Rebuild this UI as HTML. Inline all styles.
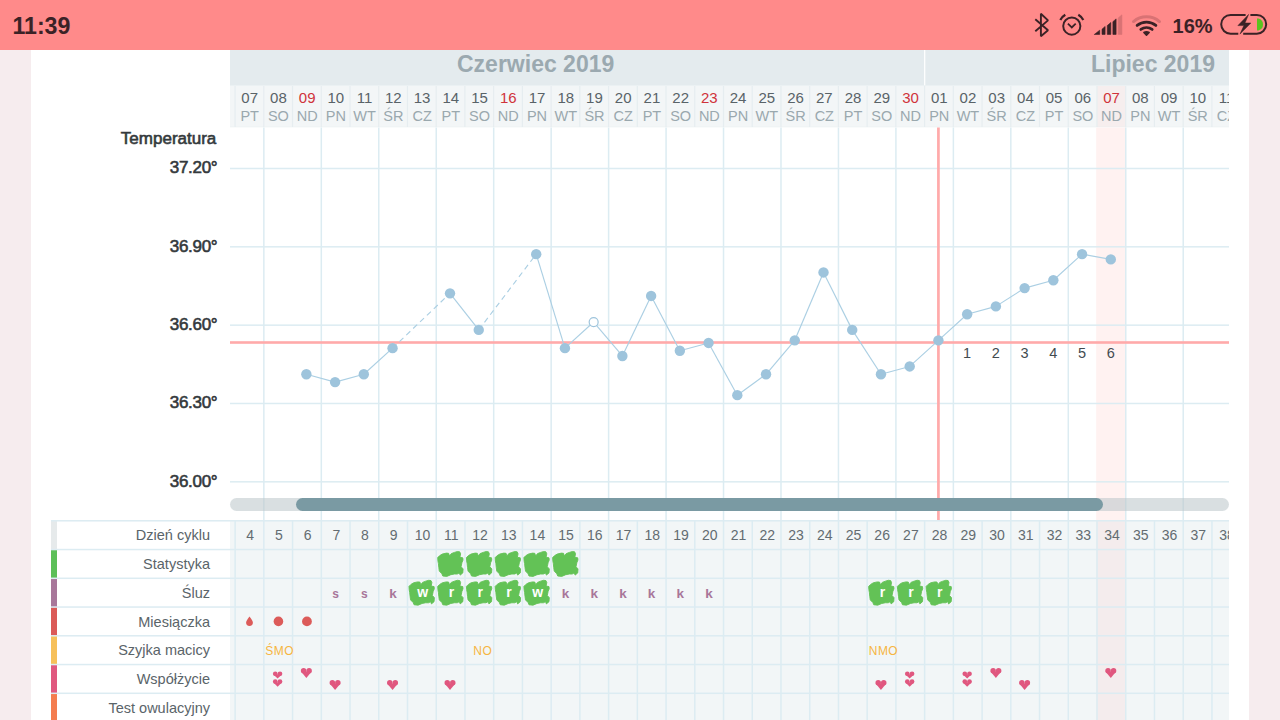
<!DOCTYPE html>
<html><head><meta charset="utf-8"><title>chart</title>
<style>
html,body{margin:0;padding:0;}
body{width:1280px;height:720px;overflow:hidden;background:#f6ecee;position:relative;font-family:"Liberation Sans", sans-serif;}
svg{position:absolute;left:0;top:0;}
</style></head><body>
<svg width="1280" height="720" viewBox="0 0 1280 720" font-family='"Liberation Sans", sans-serif'>

<rect x="0" y="0" width="1280" height="50" fill="#ff8a8a"/>
<rect x="31" y="50" width="1218" height="670" fill="#ffffff"/>
<rect x="230" y="50" width="999" height="35.5" fill="#e4ebee"/>
<rect x="924.09" y="50" width="1.2" height="35.5" fill="#ffffff"/>
<text x="457" y="71.9" font-size="23" font-weight="700" fill="#9ba9b0">Czerwiec 2019</text>
<text x="1215" y="71.9" font-size="23" font-weight="700" fill="#9ba9b0" text-anchor="end">Lipiec 2019</text>
<rect x="230" y="85.5" width="999" height="42" fill="#e6edf0"/>
<rect x="230.00" y="86" width="4.47" height="40.8" fill="#f3f6f7"/>
<rect x="235.67" y="86" width="27.53" height="40.8" fill="#f3f6f7"/>
<rect x="264.40" y="86" width="27.53" height="40.8" fill="#f3f6f7"/>
<rect x="293.13" y="86" width="27.53" height="40.8" fill="#f3f6f7"/>
<rect x="321.86" y="86" width="27.53" height="40.8" fill="#f3f6f7"/>
<rect x="350.59" y="86" width="27.53" height="40.8" fill="#f3f6f7"/>
<rect x="379.32" y="86" width="27.53" height="40.8" fill="#f3f6f7"/>
<rect x="408.05" y="86" width="27.53" height="40.8" fill="#f3f6f7"/>
<rect x="436.78" y="86" width="27.53" height="40.8" fill="#f3f6f7"/>
<rect x="465.51" y="86" width="27.53" height="40.8" fill="#f3f6f7"/>
<rect x="494.24" y="86" width="27.53" height="40.8" fill="#f3f6f7"/>
<rect x="522.97" y="86" width="27.53" height="40.8" fill="#f3f6f7"/>
<rect x="551.70" y="86" width="27.53" height="40.8" fill="#f3f6f7"/>
<rect x="580.43" y="86" width="27.53" height="40.8" fill="#f3f6f7"/>
<rect x="609.16" y="86" width="27.53" height="40.8" fill="#f3f6f7"/>
<rect x="637.89" y="86" width="27.53" height="40.8" fill="#f3f6f7"/>
<rect x="666.62" y="86" width="27.53" height="40.8" fill="#f3f6f7"/>
<rect x="695.35" y="86" width="27.53" height="40.8" fill="#f3f6f7"/>
<rect x="724.08" y="86" width="27.53" height="40.8" fill="#f3f6f7"/>
<rect x="752.81" y="86" width="27.53" height="40.8" fill="#f3f6f7"/>
<rect x="781.54" y="86" width="27.53" height="40.8" fill="#f3f6f7"/>
<rect x="810.27" y="86" width="27.53" height="40.8" fill="#f3f6f7"/>
<rect x="839.00" y="86" width="27.53" height="40.8" fill="#f3f6f7"/>
<rect x="867.73" y="86" width="27.53" height="40.8" fill="#f3f6f7"/>
<rect x="896.46" y="86" width="27.53" height="40.8" fill="#f3f6f7"/>
<rect x="925.19" y="86" width="27.53" height="40.8" fill="#f3f6f7"/>
<rect x="953.92" y="86" width="27.53" height="40.8" fill="#f3f6f7"/>
<rect x="982.65" y="86" width="27.53" height="40.8" fill="#f3f6f7"/>
<rect x="1011.38" y="86" width="27.53" height="40.8" fill="#f3f6f7"/>
<rect x="1040.11" y="86" width="27.53" height="40.8" fill="#f3f6f7"/>
<rect x="1068.84" y="86" width="27.53" height="40.8" fill="#f3f6f7"/>
<rect x="1097.57" y="86" width="27.53" height="40.8" fill="#f6eeee"/>
<rect x="1126.30" y="86" width="27.53" height="40.8" fill="#f3f6f7"/>
<rect x="1155.03" y="86" width="27.53" height="40.8" fill="#f3f6f7"/>
<rect x="1183.76" y="86" width="27.53" height="40.8" fill="#f3f6f7"/>
<rect x="1212.49" y="86" width="16.51" height="40.8" fill="#f3f6f7"/>
<defs><clipPath id="hc"><rect x="230" y="50" width="999" height="670"/></clipPath></defs>
<g clip-path="url(#hc)">
<text x="249.70" y="103.0" font-size="15" fill="#596368" text-anchor="middle">07</text>
<text x="249.70" y="120.5" font-size="14.5" fill="#9aa8ae" text-anchor="middle">PT</text>
<text x="278.43" y="103.0" font-size="15" fill="#596368" text-anchor="middle">08</text>
<text x="278.43" y="120.5" font-size="14.5" fill="#9aa8ae" text-anchor="middle">SO</text>
<text x="307.16" y="103.0" font-size="15" fill="#d0333b" text-anchor="middle">09</text>
<text x="307.16" y="120.5" font-size="14.5" fill="#9aa8ae" text-anchor="middle">ND</text>
<text x="335.89" y="103.0" font-size="15" fill="#596368" text-anchor="middle">10</text>
<text x="335.89" y="120.5" font-size="14.5" fill="#9aa8ae" text-anchor="middle">PN</text>
<text x="364.62" y="103.0" font-size="15" fill="#596368" text-anchor="middle">11</text>
<text x="364.62" y="120.5" font-size="14.5" fill="#9aa8ae" text-anchor="middle">WT</text>
<text x="393.35" y="103.0" font-size="15" fill="#596368" text-anchor="middle">12</text>
<text x="393.35" y="120.5" font-size="14.5" fill="#9aa8ae" text-anchor="middle">ŚR</text>
<text x="422.08" y="103.0" font-size="15" fill="#596368" text-anchor="middle">13</text>
<text x="422.08" y="120.5" font-size="14.5" fill="#9aa8ae" text-anchor="middle">CZ</text>
<text x="450.81" y="103.0" font-size="15" fill="#596368" text-anchor="middle">14</text>
<text x="450.81" y="120.5" font-size="14.5" fill="#9aa8ae" text-anchor="middle">PT</text>
<text x="479.54" y="103.0" font-size="15" fill="#596368" text-anchor="middle">15</text>
<text x="479.54" y="120.5" font-size="14.5" fill="#9aa8ae" text-anchor="middle">SO</text>
<text x="508.27" y="103.0" font-size="15" fill="#d0333b" text-anchor="middle">16</text>
<text x="508.27" y="120.5" font-size="14.5" fill="#9aa8ae" text-anchor="middle">ND</text>
<text x="537.00" y="103.0" font-size="15" fill="#596368" text-anchor="middle">17</text>
<text x="537.00" y="120.5" font-size="14.5" fill="#9aa8ae" text-anchor="middle">PN</text>
<text x="565.73" y="103.0" font-size="15" fill="#596368" text-anchor="middle">18</text>
<text x="565.73" y="120.5" font-size="14.5" fill="#9aa8ae" text-anchor="middle">WT</text>
<text x="594.46" y="103.0" font-size="15" fill="#596368" text-anchor="middle">19</text>
<text x="594.46" y="120.5" font-size="14.5" fill="#9aa8ae" text-anchor="middle">ŚR</text>
<text x="623.19" y="103.0" font-size="15" fill="#596368" text-anchor="middle">20</text>
<text x="623.19" y="120.5" font-size="14.5" fill="#9aa8ae" text-anchor="middle">CZ</text>
<text x="651.92" y="103.0" font-size="15" fill="#596368" text-anchor="middle">21</text>
<text x="651.92" y="120.5" font-size="14.5" fill="#9aa8ae" text-anchor="middle">PT</text>
<text x="680.65" y="103.0" font-size="15" fill="#596368" text-anchor="middle">22</text>
<text x="680.65" y="120.5" font-size="14.5" fill="#9aa8ae" text-anchor="middle">SO</text>
<text x="709.38" y="103.0" font-size="15" fill="#d0333b" text-anchor="middle">23</text>
<text x="709.38" y="120.5" font-size="14.5" fill="#9aa8ae" text-anchor="middle">ND</text>
<text x="738.11" y="103.0" font-size="15" fill="#596368" text-anchor="middle">24</text>
<text x="738.11" y="120.5" font-size="14.5" fill="#9aa8ae" text-anchor="middle">PN</text>
<text x="766.84" y="103.0" font-size="15" fill="#596368" text-anchor="middle">25</text>
<text x="766.84" y="120.5" font-size="14.5" fill="#9aa8ae" text-anchor="middle">WT</text>
<text x="795.57" y="103.0" font-size="15" fill="#596368" text-anchor="middle">26</text>
<text x="795.57" y="120.5" font-size="14.5" fill="#9aa8ae" text-anchor="middle">ŚR</text>
<text x="824.30" y="103.0" font-size="15" fill="#596368" text-anchor="middle">27</text>
<text x="824.30" y="120.5" font-size="14.5" fill="#9aa8ae" text-anchor="middle">CZ</text>
<text x="853.03" y="103.0" font-size="15" fill="#596368" text-anchor="middle">28</text>
<text x="853.03" y="120.5" font-size="14.5" fill="#9aa8ae" text-anchor="middle">PT</text>
<text x="881.76" y="103.0" font-size="15" fill="#596368" text-anchor="middle">29</text>
<text x="881.76" y="120.5" font-size="14.5" fill="#9aa8ae" text-anchor="middle">SO</text>
<text x="910.49" y="103.0" font-size="15" fill="#d0333b" text-anchor="middle">30</text>
<text x="910.49" y="120.5" font-size="14.5" fill="#9aa8ae" text-anchor="middle">ND</text>
<text x="939.22" y="103.0" font-size="15" fill="#596368" text-anchor="middle">01</text>
<text x="939.22" y="120.5" font-size="14.5" fill="#9aa8ae" text-anchor="middle">PN</text>
<text x="967.95" y="103.0" font-size="15" fill="#596368" text-anchor="middle">02</text>
<text x="967.95" y="120.5" font-size="14.5" fill="#9aa8ae" text-anchor="middle">WT</text>
<text x="996.68" y="103.0" font-size="15" fill="#596368" text-anchor="middle">03</text>
<text x="996.68" y="120.5" font-size="14.5" fill="#9aa8ae" text-anchor="middle">ŚR</text>
<text x="1025.41" y="103.0" font-size="15" fill="#596368" text-anchor="middle">04</text>
<text x="1025.41" y="120.5" font-size="14.5" fill="#9aa8ae" text-anchor="middle">CZ</text>
<text x="1054.14" y="103.0" font-size="15" fill="#596368" text-anchor="middle">05</text>
<text x="1054.14" y="120.5" font-size="14.5" fill="#9aa8ae" text-anchor="middle">PT</text>
<text x="1082.87" y="103.0" font-size="15" fill="#596368" text-anchor="middle">06</text>
<text x="1082.87" y="120.5" font-size="14.5" fill="#9aa8ae" text-anchor="middle">SO</text>
<text x="1111.60" y="103.0" font-size="15" fill="#d0333b" text-anchor="middle">07</text>
<text x="1111.60" y="120.5" font-size="14.5" fill="#9aa8ae" text-anchor="middle">ND</text>
<text x="1140.33" y="103.0" font-size="15" fill="#596368" text-anchor="middle">08</text>
<text x="1140.33" y="120.5" font-size="14.5" fill="#9aa8ae" text-anchor="middle">PN</text>
<text x="1169.06" y="103.0" font-size="15" fill="#596368" text-anchor="middle">09</text>
<text x="1169.06" y="120.5" font-size="14.5" fill="#9aa8ae" text-anchor="middle">WT</text>
<text x="1197.79" y="103.0" font-size="15" fill="#596368" text-anchor="middle">10</text>
<text x="1197.79" y="120.5" font-size="14.5" fill="#9aa8ae" text-anchor="middle">ŚR</text>
<text x="1226.52" y="103.0" font-size="15" fill="#596368" text-anchor="middle">11</text>
<text x="1226.52" y="120.5" font-size="14.5" fill="#9aa8ae" text-anchor="middle">CZ</text>
</g>
<rect x="230" y="127.5" width="999" height="393" fill="#ffffff"/>
<rect x="1096.17" y="127.5" width="29.03" height="393" fill="#fff2f1"/>
<rect x="230" y="167.75" width="999" height="1.5" fill="#dcecf2"/>
<rect x="230" y="246.08" width="999" height="1.5" fill="#dcecf2"/>
<rect x="230" y="324.41" width="999" height="1.5" fill="#dcecf2"/>
<rect x="230" y="402.74" width="999" height="1.5" fill="#dcecf2"/>
<rect x="230" y="481.07" width="999" height="1.5" fill="#dcecf2"/>
<rect x="263.10" y="127.5" width="1.5" height="393" fill="#dcecf2"/>
<rect x="320.56" y="127.5" width="1.5" height="393" fill="#dcecf2"/>
<rect x="378.02" y="127.5" width="1.5" height="393" fill="#dcecf2"/>
<rect x="435.48" y="127.5" width="1.5" height="393" fill="#dcecf2"/>
<rect x="492.94" y="127.5" width="1.5" height="393" fill="#dcecf2"/>
<rect x="550.40" y="127.5" width="1.5" height="393" fill="#dcecf2"/>
<rect x="607.86" y="127.5" width="1.5" height="393" fill="#dcecf2"/>
<rect x="665.32" y="127.5" width="1.5" height="393" fill="#dcecf2"/>
<rect x="722.78" y="127.5" width="1.5" height="393" fill="#dcecf2"/>
<rect x="780.24" y="127.5" width="1.5" height="393" fill="#dcecf2"/>
<rect x="837.70" y="127.5" width="1.5" height="393" fill="#dcecf2"/>
<rect x="895.16" y="127.5" width="1.5" height="393" fill="#dcecf2"/>
<rect x="952.62" y="127.5" width="1.5" height="393" fill="#dcecf2"/>
<rect x="1010.08" y="127.5" width="1.5" height="393" fill="#dcecf2"/>
<rect x="1067.54" y="127.5" width="1.5" height="393" fill="#dcecf2"/>
<rect x="1125.00" y="127.5" width="1.5" height="393" fill="#dcecf2"/>
<rect x="1182.46" y="127.5" width="1.5" height="393" fill="#dcecf2"/>
<text x="216.3" y="143.7" font-size="17" font-weight="400" fill="#34393c" stroke="#34393c" stroke-width="0.6" text-anchor="end">Temperatura</text>
<text x="217.3" y="173.40" font-size="17" font-weight="400" fill="#34393c" stroke="#34393c" stroke-width="0.6" letter-spacing="-0.3" text-anchor="end">37.20°</text>
<text x="217.3" y="251.73" font-size="17" font-weight="400" fill="#34393c" stroke="#34393c" stroke-width="0.6" letter-spacing="-0.3" text-anchor="end">36.90°</text>
<text x="217.3" y="330.06" font-size="17" font-weight="400" fill="#34393c" stroke="#34393c" stroke-width="0.6" letter-spacing="-0.3" text-anchor="end">36.60°</text>
<text x="217.3" y="408.39" font-size="17" font-weight="400" fill="#34393c" stroke="#34393c" stroke-width="0.6" letter-spacing="-0.3" text-anchor="end">36.30°</text>
<text x="217.3" y="486.72" font-size="17" font-weight="400" fill="#34393c" stroke="#34393c" stroke-width="0.6" letter-spacing="-0.3" text-anchor="end">36.00°</text>
<rect x="230" y="341.2" width="999" height="2.6" fill="#ffaaaa"/>
<rect x="937.07" y="127.5" width="2.7" height="393" fill="#ffaaaa"/>
<line x1="306.36" y1="374.27" x2="335.09" y2="382.10" stroke="#abcfe3" stroke-width="1.15"/>
<line x1="335.09" y1="382.10" x2="363.82" y2="374.27" stroke="#abcfe3" stroke-width="1.15"/>
<line x1="363.82" y1="374.27" x2="392.55" y2="348.16" stroke="#abcfe3" stroke-width="1.15"/>
<line x1="392.55" y1="348.16" x2="450.01" y2="293.33" stroke="#abcfe3" stroke-width="1.15" stroke-dasharray="5.5 4"/>
<line x1="450.01" y1="293.33" x2="478.74" y2="329.88" stroke="#abcfe3" stroke-width="1.15"/>
<line x1="478.74" y1="329.88" x2="536.20" y2="254.16" stroke="#abcfe3" stroke-width="1.15" stroke-dasharray="5.5 4"/>
<line x1="536.20" y1="254.16" x2="564.93" y2="348.16" stroke="#abcfe3" stroke-width="1.15"/>
<line x1="564.93" y1="348.16" x2="593.66" y2="322.05" stroke="#abcfe3" stroke-width="1.15"/>
<line x1="593.66" y1="322.05" x2="622.39" y2="355.99" stroke="#abcfe3" stroke-width="1.15"/>
<line x1="622.39" y1="355.99" x2="651.12" y2="295.94" stroke="#abcfe3" stroke-width="1.15"/>
<line x1="651.12" y1="295.94" x2="679.85" y2="350.77" stroke="#abcfe3" stroke-width="1.15"/>
<line x1="679.85" y1="350.77" x2="708.58" y2="342.94" stroke="#abcfe3" stroke-width="1.15"/>
<line x1="708.58" y1="342.94" x2="737.31" y2="395.16" stroke="#abcfe3" stroke-width="1.15"/>
<line x1="737.31" y1="395.16" x2="766.04" y2="374.27" stroke="#abcfe3" stroke-width="1.15"/>
<line x1="766.04" y1="374.27" x2="794.77" y2="340.33" stroke="#abcfe3" stroke-width="1.15"/>
<line x1="794.77" y1="340.33" x2="823.50" y2="272.44" stroke="#abcfe3" stroke-width="1.15"/>
<line x1="823.50" y1="272.44" x2="852.23" y2="329.88" stroke="#abcfe3" stroke-width="1.15"/>
<line x1="852.23" y1="329.88" x2="880.96" y2="374.27" stroke="#abcfe3" stroke-width="1.15"/>
<line x1="880.96" y1="374.27" x2="909.69" y2="366.44" stroke="#abcfe3" stroke-width="1.15"/>
<line x1="909.69" y1="366.44" x2="938.42" y2="340.33" stroke="#abcfe3" stroke-width="1.15"/>
<line x1="938.42" y1="340.33" x2="967.15" y2="314.22" stroke="#abcfe3" stroke-width="1.15"/>
<line x1="967.15" y1="314.22" x2="995.88" y2="306.38" stroke="#abcfe3" stroke-width="1.15"/>
<line x1="995.88" y1="306.38" x2="1024.61" y2="288.11" stroke="#abcfe3" stroke-width="1.15"/>
<line x1="1024.61" y1="288.11" x2="1053.34" y2="280.27" stroke="#abcfe3" stroke-width="1.15"/>
<line x1="1053.34" y1="280.27" x2="1082.07" y2="254.16" stroke="#abcfe3" stroke-width="1.15"/>
<line x1="1082.07" y1="254.16" x2="1110.80" y2="259.39" stroke="#abcfe3" stroke-width="1.15"/>
<circle cx="306.36" cy="374.27" r="5.2" fill="#9ec4dc"/>
<circle cx="335.09" cy="382.10" r="5.2" fill="#9ec4dc"/>
<circle cx="363.82" cy="374.27" r="5.2" fill="#9ec4dc"/>
<circle cx="392.55" cy="348.16" r="5.2" fill="#9ec4dc"/>
<circle cx="450.01" cy="293.33" r="5.2" fill="#9ec4dc"/>
<circle cx="478.74" cy="329.88" r="5.2" fill="#9ec4dc"/>
<circle cx="536.20" cy="254.16" r="5.2" fill="#9ec4dc"/>
<circle cx="564.93" cy="348.16" r="5.2" fill="#9ec4dc"/>
<circle cx="593.66" cy="322.05" r="4.5" fill="#ffffff" stroke="#9ec4dc" stroke-width="1.2"/>
<circle cx="622.39" cy="355.99" r="5.2" fill="#9ec4dc"/>
<circle cx="651.12" cy="295.94" r="5.2" fill="#9ec4dc"/>
<circle cx="679.85" cy="350.77" r="5.2" fill="#9ec4dc"/>
<circle cx="708.58" cy="342.94" r="5.2" fill="#9ec4dc"/>
<circle cx="737.31" cy="395.16" r="5.2" fill="#9ec4dc"/>
<circle cx="766.04" cy="374.27" r="5.2" fill="#9ec4dc"/>
<circle cx="794.77" cy="340.33" r="5.2" fill="#9ec4dc"/>
<circle cx="823.50" cy="272.44" r="5.2" fill="#9ec4dc"/>
<circle cx="852.23" cy="329.88" r="5.2" fill="#9ec4dc"/>
<circle cx="880.96" cy="374.27" r="5.2" fill="#9ec4dc"/>
<circle cx="909.69" cy="366.44" r="5.2" fill="#9ec4dc"/>
<circle cx="938.42" cy="340.33" r="5.2" fill="#9ec4dc"/>
<circle cx="967.15" cy="314.22" r="5.2" fill="#9ec4dc"/>
<circle cx="995.88" cy="306.38" r="5.2" fill="#9ec4dc"/>
<circle cx="1024.61" cy="288.11" r="5.2" fill="#9ec4dc"/>
<circle cx="1053.34" cy="280.27" r="5.2" fill="#9ec4dc"/>
<circle cx="1082.07" cy="254.16" r="5.2" fill="#9ec4dc"/>
<circle cx="1110.80" cy="259.39" r="5.2" fill="#9ec4dc"/>
<text x="967.15" y="358.4" font-size="14.5" fill="#424b50" text-anchor="middle">1</text>
<text x="995.88" y="358.4" font-size="14.5" fill="#424b50" text-anchor="middle">2</text>
<text x="1024.61" y="358.4" font-size="14.5" fill="#424b50" text-anchor="middle">3</text>
<text x="1053.34" y="358.4" font-size="14.5" fill="#424b50" text-anchor="middle">4</text>
<text x="1082.07" y="358.4" font-size="14.5" fill="#424b50" text-anchor="middle">5</text>
<text x="1110.80" y="358.4" font-size="14.5" fill="#424b50" text-anchor="middle">6</text>
<rect x="230" y="498" width="999" height="13" rx="6.5" fill="#b9c4c8" fill-opacity="0.55"/>
<rect x="296" y="498" width="807" height="13" rx="6.5" fill="#7a9aa3"/>
<rect x="51" y="520.8" width="179" height="199.20000000000005" fill="#ffffff"/>
<rect x="230" y="520.8" width="999" height="199.20000000000005" fill="#f2f6f7"/>
<rect x="1096.17" y="520.8" width="29.03" height="199.20000000000005" fill="#f4eced"/>
<rect x="51" y="520.80" width="6" height="28.75" fill="#e6eaeb"/>
<text x="210" y="540.30" font-size="14.5" fill="#5a6469" text-anchor="end">Dzień cyklu</text>
<rect x="51" y="549.55" width="6" height="28.75" fill="#5cbf58"/>
<text x="210" y="569.05" font-size="14.5" fill="#5a6469" text-anchor="end">Statystyka</text>
<rect x="51" y="578.30" width="6" height="28.75" fill="#a8779a"/>
<text x="210" y="597.80" font-size="14.5" fill="#5a6469" text-anchor="end">Śluz</text>
<rect x="51" y="607.05" width="6" height="28.75" fill="#db5a57"/>
<text x="210" y="626.55" font-size="14.5" fill="#5a6469" text-anchor="end">Miesiączka</text>
<rect x="51" y="635.80" width="6" height="28.75" fill="#f6c05a"/>
<text x="210" y="655.30" font-size="14.5" fill="#5a6469" text-anchor="end">Szyjka macicy</text>
<rect x="51" y="664.55" width="6" height="28.75" fill="#e0587f"/>
<text x="210" y="684.05" font-size="14.5" fill="#5a6469" text-anchor="end">Współżycie</text>
<rect x="51" y="693.30" width="6" height="28.75" fill="#f47d4f"/>
<text x="210" y="712.80" font-size="14.5" fill="#5a6469" text-anchor="end">Test owulacyjny</text>
<rect x="51" y="520.05" width="1178" height="1.5" fill="#dcecf2"/>
<rect x="51" y="548.80" width="1178" height="1.5" fill="#dcecf2"/>
<rect x="51" y="577.55" width="1178" height="1.5" fill="#dcecf2"/>
<rect x="51" y="606.30" width="1178" height="1.5" fill="#dcecf2"/>
<rect x="51" y="635.05" width="1178" height="1.5" fill="#dcecf2"/>
<rect x="51" y="663.80" width="1178" height="1.5" fill="#dcecf2"/>
<rect x="51" y="692.55" width="1178" height="1.5" fill="#dcecf2"/>
<rect x="51" y="721.30" width="1178" height="1.5" fill="#dcecf2"/>
<rect x="234.37" y="520.8" width="1.5" height="199.20000000000005" fill="#dcecf2"/>
<rect x="263.10" y="520.8" width="1.5" height="199.20000000000005" fill="#dcecf2"/>
<rect x="291.83" y="520.8" width="1.5" height="199.20000000000005" fill="#dcecf2"/>
<rect x="320.56" y="520.8" width="1.5" height="199.20000000000005" fill="#dcecf2"/>
<rect x="349.29" y="520.8" width="1.5" height="199.20000000000005" fill="#dcecf2"/>
<rect x="378.02" y="520.8" width="1.5" height="199.20000000000005" fill="#dcecf2"/>
<rect x="406.75" y="520.8" width="1.5" height="199.20000000000005" fill="#dcecf2"/>
<rect x="435.48" y="520.8" width="1.5" height="199.20000000000005" fill="#dcecf2"/>
<rect x="464.21" y="520.8" width="1.5" height="199.20000000000005" fill="#dcecf2"/>
<rect x="492.94" y="520.8" width="1.5" height="199.20000000000005" fill="#dcecf2"/>
<rect x="521.67" y="520.8" width="1.5" height="199.20000000000005" fill="#dcecf2"/>
<rect x="550.40" y="520.8" width="1.5" height="199.20000000000005" fill="#dcecf2"/>
<rect x="579.13" y="520.8" width="1.5" height="199.20000000000005" fill="#dcecf2"/>
<rect x="607.86" y="520.8" width="1.5" height="199.20000000000005" fill="#dcecf2"/>
<rect x="636.59" y="520.8" width="1.5" height="199.20000000000005" fill="#dcecf2"/>
<rect x="665.32" y="520.8" width="1.5" height="199.20000000000005" fill="#dcecf2"/>
<rect x="694.05" y="520.8" width="1.5" height="199.20000000000005" fill="#dcecf2"/>
<rect x="722.78" y="520.8" width="1.5" height="199.20000000000005" fill="#dcecf2"/>
<rect x="751.51" y="520.8" width="1.5" height="199.20000000000005" fill="#dcecf2"/>
<rect x="780.24" y="520.8" width="1.5" height="199.20000000000005" fill="#dcecf2"/>
<rect x="808.97" y="520.8" width="1.5" height="199.20000000000005" fill="#dcecf2"/>
<rect x="837.70" y="520.8" width="1.5" height="199.20000000000005" fill="#dcecf2"/>
<rect x="866.43" y="520.8" width="1.5" height="199.20000000000005" fill="#dcecf2"/>
<rect x="895.16" y="520.8" width="1.5" height="199.20000000000005" fill="#dcecf2"/>
<rect x="923.89" y="520.8" width="1.5" height="199.20000000000005" fill="#dcecf2"/>
<rect x="952.62" y="520.8" width="1.5" height="199.20000000000005" fill="#dcecf2"/>
<rect x="981.35" y="520.8" width="1.5" height="199.20000000000005" fill="#dcecf2"/>
<rect x="1010.08" y="520.8" width="1.5" height="199.20000000000005" fill="#dcecf2"/>
<rect x="1038.81" y="520.8" width="1.5" height="199.20000000000005" fill="#dcecf2"/>
<rect x="1067.54" y="520.8" width="1.5" height="199.20000000000005" fill="#dcecf2"/>
<rect x="1096.27" y="520.8" width="1.5" height="199.20000000000005" fill="#dcecf2"/>
<rect x="1125.00" y="520.8" width="1.5" height="199.20000000000005" fill="#dcecf2"/>
<rect x="1153.73" y="520.8" width="1.5" height="199.20000000000005" fill="#dcecf2"/>
<rect x="1182.46" y="520.8" width="1.5" height="199.20000000000005" fill="#dcecf2"/>
<rect x="1211.19" y="520.8" width="1.5" height="199.20000000000005" fill="#dcecf2"/>
<g clip-path="url(#hc)">
<text x="250.10" y="540" font-size="14" fill="#636c71" text-anchor="middle">4</text>
<text x="278.83" y="540" font-size="14" fill="#636c71" text-anchor="middle">5</text>
<text x="307.56" y="540" font-size="14" fill="#636c71" text-anchor="middle">6</text>
<text x="336.29" y="540" font-size="14" fill="#636c71" text-anchor="middle">7</text>
<text x="365.02" y="540" font-size="14" fill="#636c71" text-anchor="middle">8</text>
<text x="393.75" y="540" font-size="14" fill="#636c71" text-anchor="middle">9</text>
<text x="422.48" y="540" font-size="14" fill="#636c71" text-anchor="middle">10</text>
<text x="451.21" y="540" font-size="14" fill="#636c71" text-anchor="middle">11</text>
<text x="479.94" y="540" font-size="14" fill="#636c71" text-anchor="middle">12</text>
<text x="508.67" y="540" font-size="14" fill="#636c71" text-anchor="middle">13</text>
<text x="537.40" y="540" font-size="14" fill="#636c71" text-anchor="middle">14</text>
<text x="566.13" y="540" font-size="14" fill="#636c71" text-anchor="middle">15</text>
<text x="594.86" y="540" font-size="14" fill="#636c71" text-anchor="middle">16</text>
<text x="623.59" y="540" font-size="14" fill="#636c71" text-anchor="middle">17</text>
<text x="652.32" y="540" font-size="14" fill="#636c71" text-anchor="middle">18</text>
<text x="681.05" y="540" font-size="14" fill="#636c71" text-anchor="middle">19</text>
<text x="709.78" y="540" font-size="14" fill="#636c71" text-anchor="middle">20</text>
<text x="738.51" y="540" font-size="14" fill="#636c71" text-anchor="middle">21</text>
<text x="767.24" y="540" font-size="14" fill="#636c71" text-anchor="middle">22</text>
<text x="795.97" y="540" font-size="14" fill="#636c71" text-anchor="middle">23</text>
<text x="824.70" y="540" font-size="14" fill="#636c71" text-anchor="middle">24</text>
<text x="853.43" y="540" font-size="14" fill="#636c71" text-anchor="middle">25</text>
<text x="882.16" y="540" font-size="14" fill="#636c71" text-anchor="middle">26</text>
<text x="910.89" y="540" font-size="14" fill="#636c71" text-anchor="middle">27</text>
<text x="939.62" y="540" font-size="14" fill="#636c71" text-anchor="middle">28</text>
<text x="968.35" y="540" font-size="14" fill="#636c71" text-anchor="middle">29</text>
<text x="997.08" y="540" font-size="14" fill="#636c71" text-anchor="middle">30</text>
<text x="1025.81" y="540" font-size="14" fill="#636c71" text-anchor="middle">31</text>
<text x="1054.54" y="540" font-size="14" fill="#636c71" text-anchor="middle">32</text>
<text x="1083.27" y="540" font-size="14" fill="#636c71" text-anchor="middle">33</text>
<text x="1112.00" y="540" font-size="14" fill="#636c71" text-anchor="middle">34</text>
<text x="1140.73" y="540" font-size="14" fill="#636c71" text-anchor="middle">35</text>
<text x="1169.46" y="540" font-size="14" fill="#636c71" text-anchor="middle">36</text>
<text x="1198.19" y="540" font-size="14" fill="#636c71" text-anchor="middle">37</text>
<text x="1226.92" y="540" font-size="14" fill="#636c71" text-anchor="middle">38</text>
</g>
<text x="12.4" y="34.0" font-size="23.2" font-weight="700" fill="#3b2226">11:39</text>
<path d="M1035.3,19.3 L1048.0,30.2 L1040.9,36.2 L1040.9,13.8 L1048.0,20.4 L1035.3,31.2" fill="none" stroke="#3b2226" stroke-width="1.9" stroke-linejoin="miter" stroke-miterlimit="1.5"/>
<circle cx="1071.8" cy="26.1" r="8.6" fill="none" stroke="#3b2226" stroke-width="1.95"/>
<path d="M1067.9,23.7 L1071.8,27.4 L1075.7,23.7" fill="none" stroke="#3b2226" stroke-width="1.8"/>
<path d="M1060.32,20.00 A13,13 0 0 1 1065.30,14.84" fill="none" stroke="#3b2226" stroke-width="2.3"/>
<path d="M1078.30,14.84 A13,13 0 0 1 1083.28,20.00" fill="none" stroke="#3b2226" stroke-width="2.3"/>
<path d="M1094.3,34.4 L1094.3,34.52 L1099.7,30.19 L1099.7,34.4 Z" fill="#3b2226" stroke="#3b2226" stroke-width="0.6" stroke-linejoin="round"/>
<path d="M1102.0,34.4 L1102.0,29.20 L1105.1,26.46 L1105.1,34.4 Z" fill="#3b2226" stroke="#3b2226" stroke-width="0.6" stroke-linejoin="round"/>
<path d="M1107.3,34.4 L1107.3,25.55 L1110.8,22.53 L1110.8,34.4 Z" fill="#3b2226" stroke="#3b2226" stroke-width="0.6" stroke-linejoin="round"/>
<path d="M1112.9,34.4 L1112.9,21.68 L1116.1,18.88 L1116.1,34.4 Z" fill="#3b2226" stroke="#3b2226" stroke-width="0.6" stroke-linejoin="round"/>
<path d="M1118.2,34.4 L1118.2,18.03 L1121.9,14.87 L1121.9,34.4 Z" fill="#d97274" stroke="#d97274" stroke-width="0.6" stroke-linejoin="round"/>
<path d="M1133.52,21.53 A20.2,20.2 0 0 1 1159.48,21.53" fill="none" stroke="#d97274" stroke-width="3.0" stroke-linecap="round"/>
<path d="M1137.12,25.42 A14.9,14.9 0 0 1 1155.88,25.42" fill="none" stroke="#3b2226" stroke-width="2.8" stroke-linecap="round"/>
<path d="M1140.84,29.49 A9.4,9.4 0 0 1 1152.16,29.49" fill="none" stroke="#3b2226" stroke-width="2.8" stroke-linecap="round"/>
<path d="M1146.5,35.2 L1143.9,32.5 Q1146.5,30.9 1149.1,32.5 Z" fill="#3b2226" stroke="#3b2226" stroke-width="1.6" stroke-linejoin="round"/>
<text x="1172.6" y="32.8" font-size="20" font-weight="700" fill="#3b2226">16%</text>
<path d="M1245.6,14.9 L1230.6,14.9 A9.4,9.4 0 0 0 1230.6,33.7 L1238.3,33.7" fill="none" stroke="#3b2226" stroke-width="2"/>
<path d="M1250.4,14.9 L1256.8,14.9 A9.4,9.4 0 0 1 1256.8,33.7 L1243.2,33.7" fill="none" stroke="#3b2226" stroke-width="2"/>
<path d="M1248.6,14.4 L1237.9,25.6 L1243.9,25.6 L1240.0,34.1 L1250.9,23.0 L1245.0,23.0 Z" fill="#3b2226" stroke="#3b2226" stroke-width="0.5" stroke-linejoin="round"/>
<path d="M1257,18.5 L1258.4,18.5 Q1263.0,19.8 1263.0,24.45 Q1263.0,29.1 1258.4,30.4 L1257,30.4 Z" fill="#5bc31f"/>
<path d="M437.71,557.62 L439.71,555.62 L442.41,554.02 L446.41,553.12 L448.61,553.32 L449.51,556.02 L451.31,553.62 L454.41,552.42 L457.42,551.52 L459.71,551.82 L460.61,553.82 L459.91,557.32 L462.81,557.82 L463.03,560.08 L461.91,562.72 L461.11,566.72 L463.11,568.92 L462.81,572.92 L460.21,575.12 L459.31,572.92 L457.27,574.04 L454.41,574.02 L450.81,574.72 L446.81,576.42 L442.81,576.02 L441.91,573.82 L439.31,571.12 L438.81,567.62 L438.41,563.62 L437.91,560.92 Z" fill="#63c256" stroke="#63c256" stroke-width="0.9" stroke-linejoin="round"/>
<path d="M466.44,557.62 L468.44,555.62 L471.14,554.02 L475.14,553.12 L477.34,553.32 L478.24,556.02 L480.04,553.62 L483.14,552.42 L486.15,551.52 L488.44,551.82 L489.34,553.82 L488.64,557.32 L491.54,557.82 L491.76,560.08 L490.64,562.72 L489.84,566.72 L491.84,568.92 L491.54,572.92 L488.94,575.12 L488.04,572.92 L486.00,574.04 L483.14,574.02 L479.54,574.72 L475.54,576.42 L471.54,576.02 L470.64,573.82 L468.04,571.12 L467.54,567.62 L467.14,563.62 L466.64,560.92 Z" fill="#63c256" stroke="#63c256" stroke-width="0.9" stroke-linejoin="round"/>
<path d="M495.17,557.62 L497.17,555.62 L499.87,554.02 L503.87,553.12 L506.07,553.32 L506.97,556.02 L508.77,553.62 L511.87,552.42 L514.88,551.52 L517.17,551.82 L518.07,553.82 L517.37,557.32 L520.27,557.82 L520.49,560.08 L519.37,562.72 L518.57,566.72 L520.57,568.92 L520.27,572.92 L517.67,575.12 L516.77,572.92 L514.73,574.04 L511.87,574.02 L508.27,574.72 L504.27,576.42 L500.27,576.02 L499.37,573.82 L496.77,571.12 L496.27,567.62 L495.87,563.62 L495.37,560.92 Z" fill="#63c256" stroke="#63c256" stroke-width="0.9" stroke-linejoin="round"/>
<path d="M523.90,557.62 L525.90,555.62 L528.60,554.02 L532.60,553.12 L534.80,553.32 L535.70,556.02 L537.50,553.62 L540.60,552.42 L543.61,551.52 L545.90,551.82 L546.80,553.82 L546.10,557.32 L549.00,557.82 L549.22,560.08 L548.10,562.72 L547.30,566.72 L549.30,568.92 L549.00,572.92 L546.40,575.12 L545.50,572.92 L543.46,574.04 L540.60,574.02 L537.00,574.72 L533.00,576.42 L529.00,576.02 L528.10,573.82 L525.50,571.12 L525.00,567.62 L524.60,563.62 L524.10,560.92 Z" fill="#63c256" stroke="#63c256" stroke-width="0.9" stroke-linejoin="round"/>
<path d="M552.63,557.62 L554.63,555.62 L557.33,554.02 L561.33,553.12 L563.53,553.32 L564.43,556.02 L566.23,553.62 L569.33,552.42 L572.34,551.52 L574.63,551.82 L575.53,553.82 L574.83,557.32 L577.73,557.82 L577.95,560.08 L576.83,562.72 L576.03,566.72 L578.03,568.92 L577.73,572.92 L575.13,575.12 L574.23,572.92 L572.19,574.04 L569.33,574.02 L565.73,574.72 L561.73,576.42 L557.73,576.02 L556.83,573.82 L554.23,571.12 L553.73,567.62 L553.33,563.62 L552.83,560.92 Z" fill="#63c256" stroke="#63c256" stroke-width="0.9" stroke-linejoin="round"/>
<text x="335.59" y="597.5" font-size="12" font-weight="700" fill="#a8769a" text-anchor="middle">s</text>
<text x="364.32" y="597.5" font-size="12" font-weight="700" fill="#a8769a" text-anchor="middle">s</text>
<text x="393.05" y="597.5" font-size="13.5" font-weight="700" fill="#a8769a" text-anchor="middle">k</text>
<path d="M408.98,586.38 L410.98,584.38 L413.68,582.77 L417.68,581.88 L419.88,582.07 L420.78,584.77 L422.58,582.38 L425.68,581.17 L428.69,580.27 L430.98,580.57 L431.88,582.57 L431.18,586.07 L434.08,586.57 L434.30,588.83 L433.18,591.47 L432.38,595.47 L434.38,597.67 L434.08,601.67 L431.48,603.88 L430.58,601.67 L428.54,602.79 L425.68,602.77 L422.08,603.47 L418.08,605.17 L414.08,604.77 L413.18,602.57 L410.58,599.88 L410.08,596.38 L409.68,592.38 L409.18,589.67 Z" fill="#63c256" stroke="#63c256" stroke-width="0.9" stroke-linejoin="round"/>
<text x="422.68" y="597.2" font-size="14" font-weight="700" fill="#ffffff" text-anchor="middle">w</text>
<path d="M437.71,586.38 L439.71,584.38 L442.41,582.77 L446.41,581.88 L448.61,582.07 L449.51,584.77 L451.31,582.38 L454.41,581.17 L457.42,580.27 L459.71,580.57 L460.61,582.57 L459.91,586.07 L462.81,586.57 L463.03,588.83 L461.91,591.47 L461.11,595.47 L463.11,597.67 L462.81,601.67 L460.21,603.88 L459.31,601.67 L457.27,602.79 L454.41,602.77 L450.81,603.47 L446.81,605.17 L442.81,604.77 L441.91,602.57 L439.31,599.88 L438.81,596.38 L438.41,592.38 L437.91,589.67 Z" fill="#63c256" stroke="#63c256" stroke-width="0.9" stroke-linejoin="round"/>
<text x="451.41" y="597.2" font-size="14" font-weight="700" fill="#ffffff" text-anchor="middle">r</text>
<path d="M466.44,586.38 L468.44,584.38 L471.14,582.77 L475.14,581.88 L477.34,582.07 L478.24,584.77 L480.04,582.38 L483.14,581.17 L486.15,580.27 L488.44,580.57 L489.34,582.57 L488.64,586.07 L491.54,586.57 L491.76,588.83 L490.64,591.47 L489.84,595.47 L491.84,597.67 L491.54,601.67 L488.94,603.88 L488.04,601.67 L486.00,602.79 L483.14,602.77 L479.54,603.47 L475.54,605.17 L471.54,604.77 L470.64,602.57 L468.04,599.88 L467.54,596.38 L467.14,592.38 L466.64,589.67 Z" fill="#63c256" stroke="#63c256" stroke-width="0.9" stroke-linejoin="round"/>
<text x="480.14" y="597.2" font-size="14" font-weight="700" fill="#ffffff" text-anchor="middle">r</text>
<path d="M495.17,586.38 L497.17,584.38 L499.87,582.77 L503.87,581.88 L506.07,582.07 L506.97,584.77 L508.77,582.38 L511.87,581.17 L514.88,580.27 L517.17,580.57 L518.07,582.57 L517.37,586.07 L520.27,586.57 L520.49,588.83 L519.37,591.47 L518.57,595.47 L520.57,597.67 L520.27,601.67 L517.67,603.88 L516.77,601.67 L514.73,602.79 L511.87,602.77 L508.27,603.47 L504.27,605.17 L500.27,604.77 L499.37,602.57 L496.77,599.88 L496.27,596.38 L495.87,592.38 L495.37,589.67 Z" fill="#63c256" stroke="#63c256" stroke-width="0.9" stroke-linejoin="round"/>
<text x="508.87" y="597.2" font-size="14" font-weight="700" fill="#ffffff" text-anchor="middle">r</text>
<path d="M523.90,586.38 L525.90,584.38 L528.60,582.77 L532.60,581.88 L534.80,582.07 L535.70,584.77 L537.50,582.38 L540.60,581.17 L543.61,580.27 L545.90,580.57 L546.80,582.57 L546.10,586.07 L549.00,586.57 L549.22,588.83 L548.10,591.47 L547.30,595.47 L549.30,597.67 L549.00,601.67 L546.40,603.88 L545.50,601.67 L543.46,602.79 L540.60,602.77 L537.00,603.47 L533.00,605.17 L529.00,604.77 L528.10,602.57 L525.50,599.88 L525.00,596.38 L524.60,592.38 L524.10,589.67 Z" fill="#63c256" stroke="#63c256" stroke-width="0.9" stroke-linejoin="round"/>
<text x="537.60" y="597.2" font-size="14" font-weight="700" fill="#ffffff" text-anchor="middle">w</text>
<text x="565.43" y="597.5" font-size="13.5" font-weight="700" fill="#a8769a" text-anchor="middle">k</text>
<text x="594.16" y="597.5" font-size="13.5" font-weight="700" fill="#a8769a" text-anchor="middle">k</text>
<text x="622.89" y="597.5" font-size="13.5" font-weight="700" fill="#a8769a" text-anchor="middle">k</text>
<text x="651.62" y="597.5" font-size="13.5" font-weight="700" fill="#a8769a" text-anchor="middle">k</text>
<text x="680.35" y="597.5" font-size="13.5" font-weight="700" fill="#a8769a" text-anchor="middle">k</text>
<text x="709.08" y="597.5" font-size="13.5" font-weight="700" fill="#a8769a" text-anchor="middle">k</text>
<path d="M868.66,586.38 L870.66,584.38 L873.36,582.77 L877.36,581.88 L879.56,582.07 L880.46,584.77 L882.26,582.38 L885.36,581.17 L888.37,580.27 L890.66,580.57 L891.56,582.57 L890.86,586.07 L893.76,586.57 L893.98,588.83 L892.86,591.47 L892.06,595.47 L894.06,597.67 L893.76,601.67 L891.16,603.88 L890.26,601.67 L888.22,602.79 L885.36,602.77 L881.76,603.47 L877.76,605.17 L873.76,604.77 L872.86,602.57 L870.26,599.88 L869.76,596.38 L869.36,592.38 L868.86,589.67 Z" fill="#63c256" stroke="#63c256" stroke-width="0.9" stroke-linejoin="round"/>
<text x="882.36" y="597.2" font-size="14" font-weight="700" fill="#ffffff" text-anchor="middle">r</text>
<path d="M897.39,586.38 L899.39,584.38 L902.09,582.77 L906.09,581.88 L908.29,582.07 L909.19,584.77 L910.99,582.38 L914.09,581.17 L917.10,580.27 L919.39,580.57 L920.29,582.57 L919.59,586.07 L922.49,586.57 L922.71,588.83 L921.59,591.47 L920.79,595.47 L922.79,597.67 L922.49,601.67 L919.89,603.88 L918.99,601.67 L916.95,602.79 L914.09,602.77 L910.49,603.47 L906.49,605.17 L902.49,604.77 L901.59,602.57 L898.99,599.88 L898.49,596.38 L898.09,592.38 L897.59,589.67 Z" fill="#63c256" stroke="#63c256" stroke-width="0.9" stroke-linejoin="round"/>
<text x="911.09" y="597.2" font-size="14" font-weight="700" fill="#ffffff" text-anchor="middle">r</text>
<path d="M926.12,586.38 L928.12,584.38 L930.82,582.77 L934.82,581.88 L937.02,582.07 L937.92,584.77 L939.72,582.38 L942.82,581.17 L945.83,580.27 L948.12,580.57 L949.02,582.57 L948.32,586.07 L951.22,586.57 L951.44,588.83 L950.32,591.47 L949.52,595.47 L951.52,597.67 L951.22,601.67 L948.62,603.88 L947.72,601.67 L945.68,602.79 L942.82,602.77 L939.22,603.47 L935.22,605.17 L931.22,604.77 L930.32,602.57 L927.72,599.88 L927.22,596.38 L926.82,592.38 L926.32,589.67 Z" fill="#63c256" stroke="#63c256" stroke-width="0.9" stroke-linejoin="round"/>
<text x="939.82" y="597.2" font-size="14" font-weight="700" fill="#ffffff" text-anchor="middle">r</text>
<path d="M249.5,616.4 Q252.9,620.6 252.9,622.6 A3.4,3.4 0 0 1 246.1,622.6 Q246.1,620.6 249.5,616.4 Z" fill="#dc5b59"/>
<circle cx="278.43" cy="621.4" r="4.8" fill="#dc5b59"/>
<circle cx="306.96" cy="621.4" r="4.9" fill="#dc5b59"/>
<text x="279.63" y="654.6" font-size="12" letter-spacing="0.4" fill="#f6b541" text-anchor="middle">ŚMO</text>
<text x="482.74" y="654.6" font-size="12" letter-spacing="0.4" fill="#f6b541" text-anchor="middle">NO</text>
<text x="883.46" y="654.6" font-size="12" letter-spacing="0.4" fill="#f6b541" text-anchor="middle">NMO</text>
<circle cx="275.28" cy="673.75" r="2.35" fill="#e0577f"/><circle cx="279.98" cy="673.75" r="2.35" fill="#e0577f"/><path d="M273.08,674.34 L282.18,674.34 L277.63,678.40 Z" fill="#e0577f"/>
<circle cx="275.28" cy="681.55" r="2.35" fill="#e0577f"/><circle cx="279.98" cy="681.55" r="2.35" fill="#e0577f"/><path d="M273.08,682.14 L282.18,682.14 L277.63,686.70 Z" fill="#e0577f"/>
<circle cx="303.61" cy="670.75" r="2.75" fill="#e0577f"/><circle cx="309.11" cy="670.75" r="2.75" fill="#e0577f"/><path d="M301.01,671.44 L311.71,671.44 L306.36,678.00 Z" fill="#e0577f"/>
<circle cx="332.34" cy="682.75" r="2.75" fill="#e0577f"/><circle cx="337.84" cy="682.75" r="2.75" fill="#e0577f"/><path d="M329.74,683.44 L340.44,683.44 L335.09,690.00 Z" fill="#e0577f"/>
<circle cx="389.80" cy="682.75" r="2.75" fill="#e0577f"/><circle cx="395.30" cy="682.75" r="2.75" fill="#e0577f"/><path d="M387.20,683.44 L397.90,683.44 L392.55,690.00 Z" fill="#e0577f"/>
<circle cx="447.26" cy="682.75" r="2.75" fill="#e0577f"/><circle cx="452.76" cy="682.75" r="2.75" fill="#e0577f"/><path d="M444.66,683.44 L455.36,683.44 L450.01,690.00 Z" fill="#e0577f"/>
<circle cx="878.21" cy="682.75" r="2.75" fill="#e0577f"/><circle cx="883.71" cy="682.75" r="2.75" fill="#e0577f"/><path d="M875.61,683.44 L886.31,683.44 L880.96,690.00 Z" fill="#e0577f"/>
<circle cx="907.34" cy="673.75" r="2.35" fill="#e0577f"/><circle cx="912.04" cy="673.75" r="2.35" fill="#e0577f"/><path d="M905.14,674.34 L914.24,674.34 L909.69,678.40 Z" fill="#e0577f"/>
<circle cx="907.34" cy="681.55" r="2.35" fill="#e0577f"/><circle cx="912.04" cy="681.55" r="2.35" fill="#e0577f"/><path d="M905.14,682.14 L914.24,682.14 L909.69,686.70 Z" fill="#e0577f"/>
<circle cx="964.80" cy="673.75" r="2.35" fill="#e0577f"/><circle cx="969.50" cy="673.75" r="2.35" fill="#e0577f"/><path d="M962.60,674.34 L971.70,674.34 L967.15,678.40 Z" fill="#e0577f"/>
<circle cx="964.80" cy="681.55" r="2.35" fill="#e0577f"/><circle cx="969.50" cy="681.55" r="2.35" fill="#e0577f"/><path d="M962.60,682.14 L971.70,682.14 L967.15,686.70 Z" fill="#e0577f"/>
<circle cx="993.13" cy="670.75" r="2.75" fill="#e0577f"/><circle cx="998.63" cy="670.75" r="2.75" fill="#e0577f"/><path d="M990.53,671.44 L1001.23,671.44 L995.88,678.00 Z" fill="#e0577f"/>
<circle cx="1021.86" cy="682.75" r="2.75" fill="#e0577f"/><circle cx="1027.36" cy="682.75" r="2.75" fill="#e0577f"/><path d="M1019.26,683.44 L1029.96,683.44 L1024.61,690.00 Z" fill="#e0577f"/>
<circle cx="1108.05" cy="670.75" r="2.75" fill="#e0577f"/><circle cx="1113.55" cy="670.75" r="2.75" fill="#e0577f"/><path d="M1105.45,671.44 L1116.15,671.44 L1110.80,678.00 Z" fill="#e0577f"/>
</svg></body></html>
